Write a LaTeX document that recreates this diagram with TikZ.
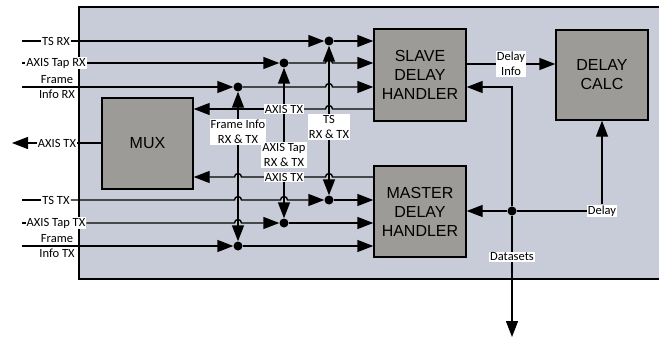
\documentclass[tikz,border=0pt]{standalone}
\usepackage{fontspec}
\setmainfont{Carlito}
\newfontfamily\arialfont{Liberation Sans}
\usepackage{tikz}
\usetikzlibrary{arrows.meta, positioning, calc}
\definecolor{bgfill}{RGB}{200,204,216}
\definecolor{boxfill}{RGB}{156,155,151}
% hop of a horizontal wire over the vertical through #1, at the height of #2
\newcommand{\hop}[2]{-- ($(#1 |- #2)+(-3.5,0)$) arc[start angle=180, end angle=0, radius=3.5]}

\begin{document}
\begin{tikzpicture}[
    x=1pt, y=1pt,
    >={Triangle[length=16pt, width=12pt]},
    blk/.style={draw, line width=1.4pt, fill=boxfill, inner sep=0pt, align=center,
        font=\arialfont\fontsize{16}{19}\selectfont},
    lbl/.style={fill=white, inner sep=1pt, align=center, font=\fontsize{12.5}{15}\selectfont},
    dot/.style={circle, fill=black, inner sep=0pt, minimum size=9pt},
    wire/.style={line width=1.4pt},
]
\useasboundingbox (0,0) rectangle (659,-345);

% Background
\fill[bgfill] (79,-7) rectangle (659,-279);
\draw[line width=1.3pt] (659,-7) -- (79,-7) -- (79,-279) -- (659,-279);

% Blocks
\node[blk, minimum width=91pt, minimum height=91pt] (mux) at (147.5,-143.5) {MUX};
\node[blk, minimum width=92pt, minimum height=92pt] (slave) at (420,-75) {SLAVE\\DELAY\\HANDLER};
\node[blk, minimum width=92pt, minimum height=91pt] (master) at (420,-211.5) {MASTER\\DELAY\\HANDLER};
\node[blk, minimum width=92pt, minimum height=90pt] (calc) at (602,-75) {DELAY\\CALC};

% Ports on the left
\coordinate (sTSrx) at (22,-41);
\coordinate (sTaprx) at (22,-63);
\coordinate (sFIrx) at (22,-87);
\coordinate (eAxout) at (12,-143);
\coordinate (sTStx) at (22,-200);
\coordinate (sTaptx) at (22,-223);
\coordinate (sFItx) at (22,-246);
\node[lbl] (lTSrx) at (56,-41) {TS RX};
\node[lbl] (lTaprx) at (56,-63) {AXIS Tap RX};
\node[lbl] (lFIrx) at (57,-87) {Frame\\Info RX};
\node[lbl] (lAxout) at (57,-143) {AXIS TX};
\node[lbl] (lTStx) at (56,-200) {TS TX};
\node[lbl] (lTaptx) at (56,-223) {AXIS Tap TX};
\node[lbl] (lFItx) at (57,-246) {Frame\\Info TX};

% Junctions
\node[dot] (dTSrx) at (329,-41) {};
\node[dot] (dTaprx) at (284,-63) {};
\node[dot] (dFIrx) at (238,-87) {};
\node[dot] (dTStx) at (329,-200) {};
\node[dot] (dTaptx) at (284,-223) {};
\node[dot] (dFItx) at (238,-246) {};
\node[dot] (dDelay) at (512,-211) {};

% Shared RX & TX feeds
\node[lbl] (lFI) at (238,-132) {Frame Info\\RX \& TX};
\node[lbl] (lTap) at (284,-155) {AXIS Tap\\RX \& TX};
\node[lbl] (lTS) at (329,-127) {TS\\RX \& TX};
\node[lbl] (lAxu) at (284,-109) {AXIS TX};
\node[lbl] (lAxl) at (284,-177) {AXIS TX};

% Right side labels
\node[lbl] (lDI) at (511,-64) {Delay\\Info};
\node[lbl] (lDelay) at (602,-211) {Delay};
\node[lbl] (lDs) at (512,-257) {Datasets};
\coordinate (eOut) at (512,-337);

% RX wires
\draw[wire] (sTSrx) -- (lTSrx);
\draw[->, wire] (lTSrx) -- (dTSrx);
\draw[->, wire] (dTSrx) -- (dTSrx -| slave.west);
\draw[wire] (sTaprx) -- (lTaprx);
\draw[->, wire] (lTaprx) -- (dTaprx);
\draw[->, wire] (dTaprx) \hop{lTS}{dTaprx} -- (dTaprx -| slave.west);
\draw[->, wire] (sFIrx) -- (dFIrx);
\draw[->, wire] (dFIrx) \hop{lTS}{dFIrx} -- (dFIrx -| slave.west);

% AXIS TX into the mux
\draw[wire] (lAxu) \hop{lTS}{lAxu} -- (lAxu -| slave.west);
\draw[<-, wire] (lAxu -| mux.east) -- (lAxu);
\draw[wire] (lAxl) \hop{lTS}{lAxl} -- (lAxl -| master.west);
\draw[<-, wire] (lAxl -| mux.east) \hop{lFI}{lAxl} -- (lAxl);
\draw[wire] (lAxout) -- (lAxout -| mux.west);
\draw[->, wire] (lAxout) -- (eAxout);

% TX wires
\draw[wire] (sTStx) -- (lTStx);
\draw[->, wire] (lTStx) \hop{lFI}{dTStx} \hop{lTap}{dTStx} -- (dTStx);
\draw[->, wire] (dTStx) -- (dTStx -| master.west);
\draw[wire] (sTaptx) -- (lTaptx);
\draw[->, wire] (lTaptx) \hop{lFI}{dTaptx} -- (dTaptx);
\draw[->, wire] (dTaptx) -- (dTaptx -| master.west);
\draw[->, wire] (sFItx) -- (dFItx);
\draw[->, wire] (dFItx) -- (dFItx -| master.west);

% Vertical feeds
\draw[->, wire] (lTS) -- (dTSrx);
\draw[->, wire] (lTS) -- (dTStx);
\draw[wire] (lTap) -- (lAxu);
\draw[->, wire] (lAxu) -- (dTaprx);
\draw[->, wire] (lAxl) -- (dTaptx);
\draw[->, wire] (lFI) -- (dFIrx);
\draw[->, wire] (lFI) -- (dFItx);

% Delay paths
\draw[wire] (lDI -| slave.east) -- (lDI);
\draw[->, wire] (lDI) -- (lDI -| calc.west);
\draw[->, wire] (dDelay) |- ($(slave.east)+(0,-12)$);
\draw[wire] (dDelay) -- (lDs);
\draw[->, wire] (lDs) -- (eOut);
\draw[->, wire] (dDelay) -- (dDelay -| master.east);
\draw[wire] (dDelay) -- (lDelay);
\draw[->, wire] (lDelay) -- (calc);

\end{tikzpicture}
\end{document}
